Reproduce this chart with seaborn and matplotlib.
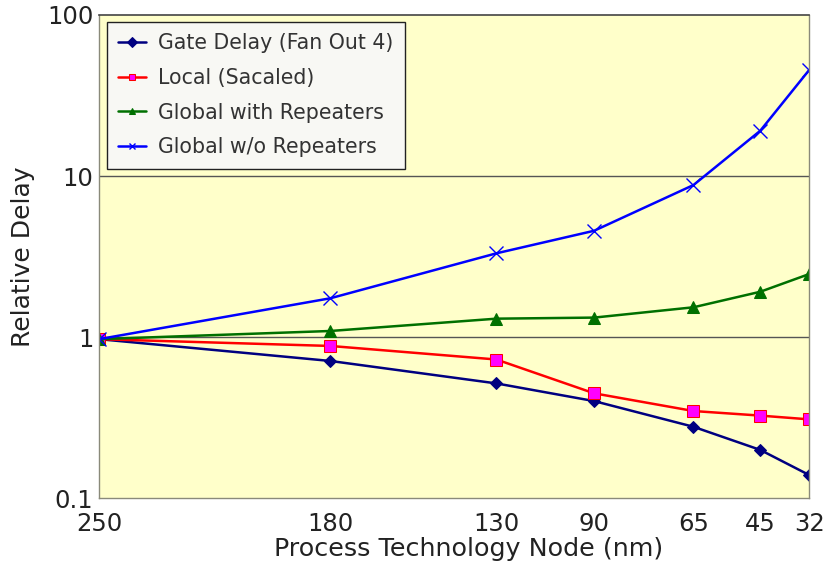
import matplotlib
matplotlib.use("Agg")
import matplotlib.pyplot as plt
import seaborn as sns
import pandas as pd

# ---- data ----
node_labels = ["250", "180", "130", "90", "65", "45", "32"]
# position of each node along the (reversed, linear) x axis, in nm units
node_pos = [250, 179, 128, 98, 67.5, 47, 32]
gate_delay = [0.97, 0.71, 0.515, 0.40, 0.277, 0.199, 0.139]
local_scaled = [0.97, 0.88, 0.725, 0.447, 0.347, 0.325, 0.308]
global_rep = [0.97, 1.09, 1.30, 1.32, 1.53, 1.91, 2.46]
global_norep = [0.97, 1.74, 3.31, 4.57, 8.79, 19.1, 45.5]
series_names = ["Gate Delay (Fan Out 4)", "Local (Sacaled)",
                "Global with Repeaters", "Global w/o Repeaters"]

sns.set_theme(style="white")
plt.rcParams["font.family"] = ["DejaVu Sans"]

fig = plt.figure(figsize=(8.35, 5.68), dpi=100)
ax = fig.add_axes([0.1186, 0.1232, 0.8504, 0.8504])
ax.set_facecolor("#FFFFCA")

styles = [
    dict(color="#000080", marker="D", markersize=6, markerfacecolor="#000080", markeredgecolor="#000080"),
    dict(color="#FF0000", marker="s", markersize=8, markerfacecolor="#FF00FF", markeredgecolor="#FF0000"),
    dict(color="#007000", marker="^", markersize=8, markerfacecolor="#007000", markeredgecolor="#007000"),
    dict(color="#0000FF", marker="x", markersize=10, markeredgewidth=1.0,
         markeredgecolor="#0000FF", markerfacecolor="#0000FF"),
]
values = [gate_delay, local_scaled, global_rep, global_norep]

for name, vals, st in zip(series_names, values, styles):
    df = pd.DataFrame({"node": node_pos, "delay": vals})
    sns.lineplot(data=df, x="node", y="delay", ax=ax, label=name,
                 linewidth=1.8, **st)

ax.set_yscale("log")
ax.set_ylim(0.1, 100)
ax.set_xlim(250, 32)
ax.set_yticks([0.1, 1, 10, 100])
ax.set_yticklabels(["0.1", "1", "10", "100"])
ax.minorticks_off()
ax.set_xticks(node_pos)
ax.set_xticklabels(node_labels)
ax.tick_params(axis="both", labelsize=17.5, length=0, colors="#222222")
ax.tick_params(axis="y", pad=4)
ax.tick_params(axis="x", pad=10)

for yv in [1, 10]:
    ax.axhline(yv, color="#555555", linewidth=1.0, zorder=1)

for side in ["left", "right", "bottom"]:
    ax.spines[side].set_color("#8a8a7a")
    ax.spines[side].set_linewidth(1.0)
ax.spines["top"].set_color("#444444")
ax.spines["top"].set_linewidth(1.2)

ax.set_xlabel("Process Technology Node (nm)", fontsize=18.3, color="#222222")
ax.xaxis.set_label_coords(0.52, -0.08)
ax.set_ylabel("Relative Delay", fontsize=18, color="#222222")
ax.yaxis.set_label_coords(-0.09, 0.5)

leg = ax.legend(loc="upper left", bbox_to_anchor=(0.011, 0.986), borderaxespad=0,
                fontsize=14.8, frameon=True, fancybox=False, handlelength=1.35,
                handletextpad=0.6, borderpad=0.55, labelspacing=0.72)
leg.get_frame().set_edgecolor("#222222")
leg.get_frame().set_facecolor("#F8F8F4")
leg.get_frame().set_alpha(1)
leg.get_frame().set_linewidth(1.0)
for h in leg.legend_handles:
    h.set_markersize(5)
for t in leg.get_texts():
    t.set_color("#333333")

fig.savefig("out.png", dpi=100)
